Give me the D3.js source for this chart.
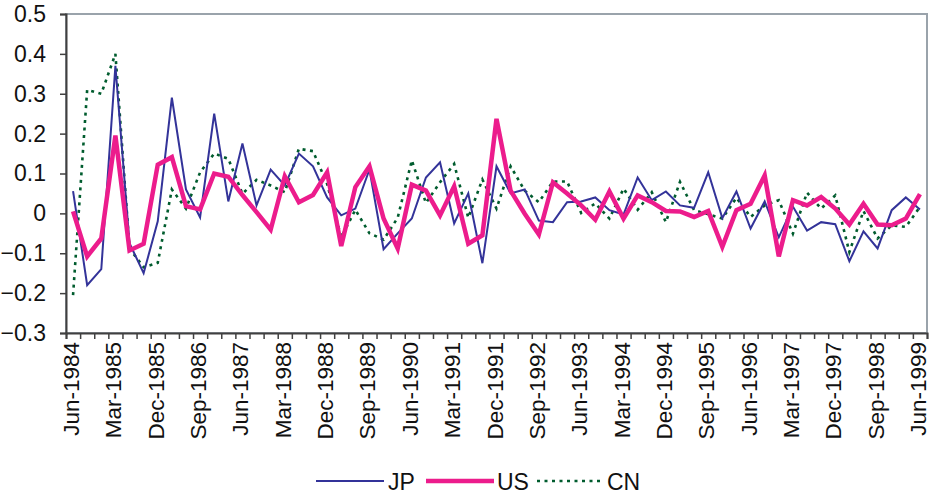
<!DOCTYPE html>
<html>
<head>
<meta charset="utf-8">
<script src="https://cdn.jsdelivr.net/npm/d3@7"></script>
<style>
  html, body { margin: 0; padding: 0; background: #fff; }
  svg { display: block; font-family: "Liberation Sans", Arial, sans-serif; }
</style>
</head>
<body>
<svg id="chart" width="931" height="498"></svg>
<script>
// ---- data ----
const tickLabels = ["Jun-1984","Mar-1985","Dec-1985","Sep-1986","Jun-1987","Mar-1988","Dec-1988",
  "Sep-1989","Jun-1990","Mar-1991","Dec-1991","Sep-1992","Jun-1993","Mar-1994","Dec-1994",
  "Sep-1995","Jun-1996","Mar-1997","Dec-1997","Sep-1998","Jun-1999"];
const seriesNames = ["JP", "US", "CN"];
const jp = [0.056,-0.18,-0.14,0.37,-0.075,-0.15,-0.02,0.29,0.06,-0.01,0.25,0.03,0.175,0.02,0.11,0.07,
  0.15,0.118,0.04,-0.005,0.012,0.11,-0.09,-0.05,-0.013,0.09,0.128,-0.025,0.05,-0.125,0.118,0.05,
  0.06,-0.018,-0.022,0.028,0.03,0.04,0.008,-0.003,0.09,0.033,0.055,0.02,0.014,0.103,-0.012,0.055,
  -0.038,0.03,-0.06,0.017,-0.043,-0.022,-0.027,-0.12,-0.045,-0.088,0.008,0.04,0.01];
const us = [0.005,-0.108,-0.063,0.195,-0.093,-0.076,0.122,0.141,0.018,0.01,0.10,0.092,0.046,0.003,-0.041,0.093,
  0.028,0.046,0.103,-0.082,0.066,0.118,-0.013,-0.088,0.072,0.057,-0.005,0.068,-0.076,-0.055,0.237,0.057,
  -0.001,-0.053,0.078,0.05,0.02,-0.016,0.055,-0.013,0.045,0.028,0.006,0.005,-0.009,0.006,-0.084,0.008,
  0.024,0.095,-0.108,0.033,0.02,0.041,0.012,-0.028,0.024,-0.028,-0.03,-0.013,0.048];
const cn = [-0.205,0.31,0.30,0.40,-0.088,-0.135,-0.124,0.06,0.012,0.103,0.15,0.137,0.049,0.084,0.07,0.053,
  0.162,0.156,0.074,-0.06,0.009,-0.05,-0.066,-0.011,0.133,0.026,0.078,0.124,-0.011,0.085,0.012,0.118,
  0.057,0.028,0.08,0.08,0.001,0.025,-0.013,0.062,0.009,0.053,-0.022,0.079,0.008,-0.002,-0.013,0.039,
  -0.009,0.02,0.033,-0.051,0.052,0.012,0.045,-0.097,0.006,-0.063,-0.03,-0.034,0.016];
const yTicks = [0.5,0.4,0.3,0.2,0.1,0,-0.1,-0.2,-0.3];

// ---- layout ----
const svg = d3.select("#chart");
const L = 66, R = 927, T = 14, B = 333;
const n = jp.length;
const x = d3.scalePoint().domain(d3.range(n)).range([L, R]).padding(0.5);
const xb = d3.scaleLinear().domain([0, n]).range([L, R]);
const y = d3.scaleLinear().domain([-0.3, 0.5]).range([B, T]);

// plot border
svg.append("rect").attr("x", L).attr("y", T).attr("width", R - L).attr("height", B - T)
  .attr("fill", "none").attr("stroke", "#9aa3ab").attr("stroke-width", 2);

// y axis
const yAxis = svg.append("g").attr("transform", `translate(${L},0)`)
  .call(d3.axisLeft(y).tickValues(yTicks).tickSize(6).tickPadding(14)
    .tickFormat(d => Math.abs(d) < 1e-9 ? "0" : d3.format(".1f")(d)));
yAxis.select(".domain").attr("stroke", "#404040").attr("stroke-width", 2);
yAxis.selectAll(".tick line").attr("stroke", "#404040").attr("stroke-width", 1.5);
yAxis.selectAll("text").attr("font-size", 23).attr("fill", "#111")
  .attr("font-family", "'Liberation Sans', Arial, sans-serif");

// x axis boundary ticks
const xAxis = svg.append("g").attr("transform", `translate(0,${B})`)
  .call(d3.axisBottom(xb).tickValues(d3.range(n + 1)).tickSize(6).tickFormat(""));
xAxis.select(".domain").attr("stroke", "#404040").attr("stroke-width", 2);
xAxis.selectAll(".tick line").attr("stroke", "#404040").attr("stroke-width", 1.5);

// x labels every 3rd category
const labIdx = tickLabels.map((_, i) => i * 3);
svg.append("g").selectAll("text").data(labIdx).join("text")
  .attr("transform", d => `translate(${x(d) + 6},${B + 9}) rotate(-90)`)
  .attr("text-anchor", "end")
  .attr("font-size", 22.5)
  .attr("fill", "#111")
  .text((d, i) => tickLabels[i]);

// lines
const line = d3.line().x((d, i) => x(i)).y(d => y(d));
const styles = {
  JP: { data: jp, color: "#333399", width: 2, dash: null },
  US: { data: us, color: "#EC1C8C", width: 4.5, dash: null },
  CN: { data: cn, color: "#005C2E", width: 2.6, dash: "3,4.5" }
};
["CN", "JP", "US"].forEach(k => {
  const s = styles[k];
  svg.append("path").datum(s.data).attr("d", line)
    .attr("fill", "none").attr("stroke", s.color).attr("stroke-width", s.width)
    .attr("stroke-linejoin", "miter").attr("stroke-dasharray", s.dash);
});

// legend
const leg = [
  { name: "JP", x1: 316, x2: 384, tx: 388 },
  { name: "US", x1: 426, x2: 494, tx: 497 },
  { name: "CN", x1: 537, x2: 604, tx: 607 }
];
const lg = svg.append("g");
leg.forEach(l => {
  const s = styles[l.name];
  lg.append("line").attr("x1", l.x1).attr("x2", l.x2).attr("y1", 481).attr("y2", 481)
    .attr("stroke", s.color).attr("stroke-width", s.width).attr("stroke-dasharray", s.dash);
  lg.append("text").attr("x", l.tx).attr("y", 490).attr("font-size", 23).attr("fill", "#111").text(l.name);
});
</script>
</body>
</html>
